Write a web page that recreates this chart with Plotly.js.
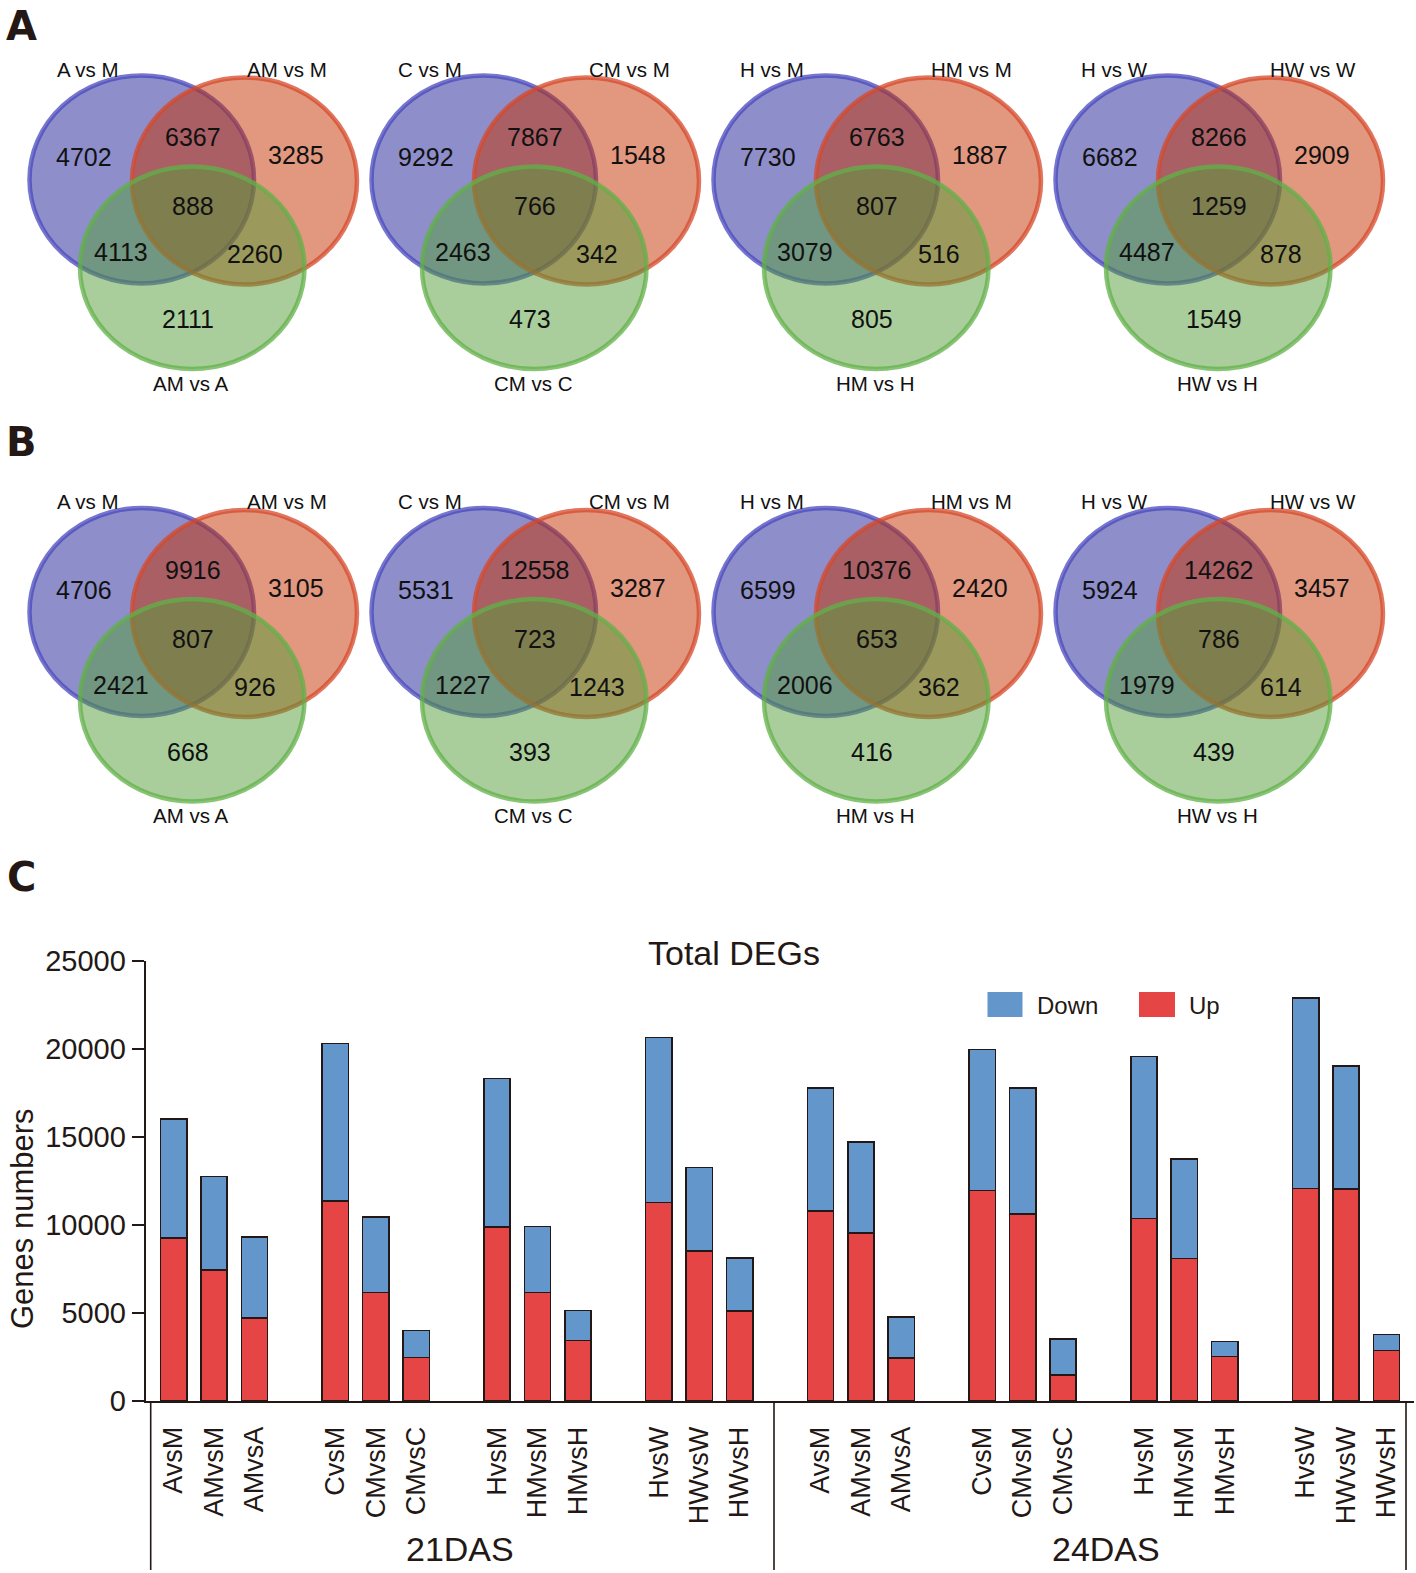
<!DOCTYPE html>
<html>
<head>
<meta charset="utf-8">
<script src="https://cdn.plot.ly/plotly-3.0.1.min.js"></script>
<style>
html,body{margin:0;padding:0;background:#fff;}
#chart{width:1416px;height:1573px;}
</style>
</head>
<body>
<div id="chart"></div>
<script>
// ---------------- DATA ----------------
const categories = ["AvsM","AMvsM","AMvsA","CvsM","CMvsM","CMvsC","HvsM","HMvsM","HMvsH","HvsW","HWvsW","HWvsH"];
const stageLabels = ["21DAS","24DAS"];
const up21   = [9250, 7450, 4700, 11370, 6160, 2480, 9900, 6170, 3430, 11270, 8540, 5100];
const down21 = [6770, 5300, 4630, 8950, 4310, 1520, 8420, 3750, 1720, 9390, 4720, 3020];
const up24   = [10800, 9530, 2460, 11970, 10640, 1480, 10360, 8090, 2520, 12080, 12030, 2860];
const down24 = [7000, 5190, 2310, 8010, 7130, 2060, 9220, 5660, 850, 10820, 7020, 910];
const yTicks = [0, 5000, 10000, 15000, 20000, 25000];

const vennLabels = [
  ["A vs M","AM vs M","AM vs A"],
  ["C vs M","CM vs M","CM vs C"],
  ["H vs M","HM vs M","HM vs H"],
  ["H vs W","HW vs W","HW vs H"]
];
// region order: only1, 1&2, only2, 1&2&3, 1&3, 2&3, only3
const vennA = [
  [4702, 6367, 3285, 888, 4113, 2260, 2111],
  [9292, 7867, 1548, 766, 2463, 342, 473],
  [7730, 6763, 1887, 807, 3079, 516, 805],
  [6682, 8266, 2909, 1259, 4487, 878, 1549]
];
const vennB = [
  [4706, 9916, 3105, 807, 2421, 926, 668],
  [5531, 12558, 3287, 723, 1227, 1243, 393],
  [6599, 10376, 2420, 653, 2006, 362, 416],
  [5924, 14262, 3457, 786, 1979, 614, 439]
];
const panelLetters = ["A","B","C"];
const legendNames = ["Down","Up"];
const yTitle = "Genes numbers";

// ---------------- STYLE / LAYOUT ----------------
const FONT = "Liberation Sans, Arial, Helvetica, sans-serif";
const INK = "#231815";
const BLUE = "#6396CA";
const RED = "#E54544";
const W = 1416, H = 1573;

// bar x slots: groups of 3 with one empty slot between groups
const xs = [];
const ticktext = [];
for (let s = 0; s < 2; s++) {
  for (let i = 0; i < categories.length; i++) {
    xs.push(s * 16 + Math.floor(i / 3) * 4 + (i % 3));
    ticktext.push(categories[i]);
  }
}
const upAll = up21.concat(up24);
const downAll = down21.concat(down24);

const traces = [
  {type:"bar", name:"Up", x:xs, y:upAll, width:0.65,
   marker:{color:RED, line:{color:INK, width:1.6}}, xaxis:"x", yaxis:"y", showlegend:false, hoverinfo:"skip"},
  {type:"bar", name:"Down", x:xs, y:downAll, width:0.65,
   marker:{color:BLUE, line:{color:INK, width:1.6}}, xaxis:"x", yaxis:"y", showlegend:false, hoverinfo:"skip"},
  {type:"scatter", x:[], y:[], xaxis:"x2", yaxis:"y2", showlegend:false, hoverinfo:"skip"}
];

const shapes = [];
const annotations = [];

// Venn diagrams
const ell = [
  {b:[29.5,75.5,254,283.5], fill:"rgba(30,30,152,0.5)", line:"rgba(72,72,190,0.75)"},
  {b:[132,77.5,357,284.5], fill:"rgba(198,48,0,0.5)", line:"rgba(214,72,42,0.75)"},
  {b:[80,166.5,304.5,369], fill:"rgba(84,158,58,0.5)", line:"rgba(98,176,72,0.75)"}
];
const numPos = [[84,157],[193,137],[296,155],[193,206],[121,252],[255,254],[188,319]];
const labPos = [[88,69],[287,69],[191,383]];
const vennXOff = [0, 342, 684, 1026];
const panelYOff = [0, 432.5];
[vennA, vennB].forEach((panel, p) => {
  panel.forEach((vals, k) => {
    const ox = vennXOff[k], oy = panelYOff[p];
    ell.forEach(e => {
      shapes.push({type:"circle", xref:"x2", yref:"y2",
        x0:e.b[0]+ox, x1:e.b[2]+ox, y0:e.b[1]+oy, y1:e.b[3]+oy,
        fillcolor:e.fill, line:{color:e.line, width:4.5}, layer:"above"});
    });
    vals.forEach((v, r) => {
      annotations.push({xref:"x2", yref:"y2", x:numPos[r][0]+ox, y:numPos[r][1]+oy,
        text:String(v), showarrow:false, xanchor:"center", yanchor:"middle",
        font:{family:FONT, size:25, color:"#111"}});
    });
    vennLabels[k].forEach((t, r) => {
      annotations.push({xref:"x2", yref:"y2", x:labPos[r][0]+ox, y:labPos[r][1]+oy,
        text:t, showarrow:false, xanchor:"center", yanchor:"middle",
        font:{family:FONT, size:20.5, color:"#111"}});
    });
  });
});

// panel letters
[[21,26],[21,441.5],[21,877]].forEach((pos, i) => {
  annotations.push({xref:"x2", yref:"y2", x:pos[0], y:pos[1], text:"<b>"+panelLetters[i]+"</b>",
    showarrow:false, xanchor:"center", yanchor:"middle",
    font:{family:"DejaVu Sans, Liberation Sans, Arial, sans-serif", size:40, color:INK}});
});

// y-axis title
annotations.push({xref:"x2", yref:"y2", x:22, y:1219, text:yTitle, textangle:-90,
  showarrow:false, xanchor:"center", yanchor:"middle",
  font:{family:FONT, size:31, color:INK}});

// x-axis brackets
[150.7, 774, 1406].forEach(x => {
  shapes.push({type:"line", xref:"x2", yref:"y2", x0:x, x1:x, y0:1401, y1:1570,
    line:{color:INK, width:1.6}});
});
// stage labels
[[460,1549],[1106,1549]].forEach((pos, i) => {
  annotations.push({xref:"x2", yref:"y2", x:pos[0], y:pos[1], text:stageLabels[i],
    showarrow:false, xanchor:"center", yanchor:"middle",
    font:{family:FONT, size:34, color:INK}});
});

// legend (manual)
const legBoxes = [[987.5,992,1022.5,1017, BLUE],[1139,992,1175,1017, RED]];
legBoxes.forEach((b, i) => {
  shapes.push({type:"rect", xref:"x2", yref:"y2", x0:b[0], x1:b[2], y0:b[1], y1:b[3],
    fillcolor:b[4], line:{width:0}});
  annotations.push({xref:"x2", yref:"y2", x:b[2]+12, y:1005, text:legendNames[i],
    showarrow:false, xanchor:"left", yanchor:"middle",
    font:{family:FONT, size:24, color:INK}});
});

const layout = {
  width:W, height:H,
  margin:{l:0, r:0, t:0, b:0, pad:0},
  paper_bgcolor:"#ffffff",
  plot_bgcolor:"rgba(0,0,0,0)",
  barmode:"stack",
  showlegend:false,
  title:{text:"Total DEGs", x:734/W, xanchor:"center", y:1-953/H, yanchor:"middle",
    xref:"container", yref:"container", font:{family:FONT, size:34, color:INK}},
  xaxis:{domain:[145.7/W, 1414/W], range:[-0.69, 30.68], showgrid:false, zeroline:false,
    showline:true, linecolor:INK, linewidth:2, ticks:"", tickmode:"array",
    tickvals:xs, ticktext:ticktext, tickangle:-90, ticklabelstandoff:13,
    tickfont:{family:FONT, size:27, color:INK}, anchor:"y", fixedrange:true},
  yaxis:{domain:[1-1401/H, 1-961/H], range:[0, 25000], showgrid:false, zeroline:false,
    showline:true, linecolor:INK, linewidth:2, ticks:"outside", ticklen:12, tickwidth:2,
    tickcolor:INK, tickmode:"array", tickvals:yTicks, ticktext:yTicks.map(String),
    tickfont:{family:FONT, size:29, color:INK}, anchor:"x", fixedrange:true},
  xaxis2:{domain:[0,1], range:[0,W], visible:false, anchor:"y2", fixedrange:true},
  yaxis2:{domain:[0,1], range:[H,0], visible:false, anchor:"x2", fixedrange:true},
  shapes:shapes,
  annotations:annotations
};

Plotly.newPlot("chart", traces, layout, {staticPlot:true, displayModeBar:false});
</script>
</body>
</html>
